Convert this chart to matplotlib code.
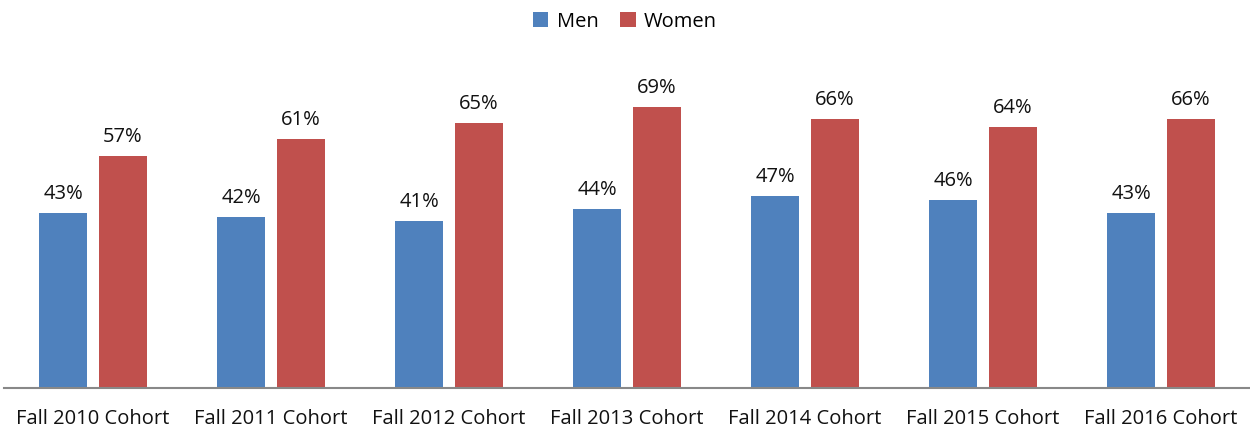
import numpy as np
from matplotlib import pyplot as plt

plt.rcParams['font.family'] = ['Open Sans', 'DejaVu Sans']

cohorts = ["Fall 2010 Cohort", "Fall 2011 Cohort", "Fall 2012 Cohort", "Fall 2013 Cohort",
           "Fall 2014 Cohort", "Fall 2015 Cohort", "Fall 2016 Cohort"]
men = [43, 42, 41, 44, 47, 46, 43]
women = [57, 61, 65, 69, 66, 64, 66]

blue = "#4F81BD"
red = "#C0504D"

fig = plt.figure(figsize=(12.5, 4.33), dpi=100)
ax = fig.add_axes([0.0032, 0.104, 0.9968, 0.753])

x = np.arange(len(cohorts))
w = 0.27
off = (w + 0.062) / 2
b1 = ax.bar(x - off, men, w, color=blue, label="Men")
b2 = ax.bar(x + off, women, w, color=red, label="Women")

for bars in (b1, b2):
    for b in bars:
        ax.annotate(f"{b.get_height():.0f}%", (b.get_x() + b.get_width() / 2, b.get_height()),
                    xytext=(0, 9), textcoords="offset pixels", ha="center", va="bottom",
                    fontsize=14.5, color="#111111")

ax.set_xlim(-0.5, len(cohorts) - 0.5)
ax.set_ylim(0, 80)
ax.set_yticks([])
ax.set_xticks(x)
ax.set_xticklabels(cohorts, fontsize=14.5, color="#111111")
ax.tick_params(axis="x", length=0, pad=15)
for s in ("top", "right", "left"):
    ax.spines[s].set_visible(False)
ax.spines["bottom"].set_color("#888888")
ax.spines["bottom"].set_linewidth(1.5)

fig.legend(loc="upper center", bbox_to_anchor=(0.5, 1.015), ncol=2, frameon=False,
           fontsize=14.5, handlelength=0.75, handleheight=0.75, handletextpad=0.4,
           columnspacing=1.1)

fig.savefig("out.png", dpi=100)
